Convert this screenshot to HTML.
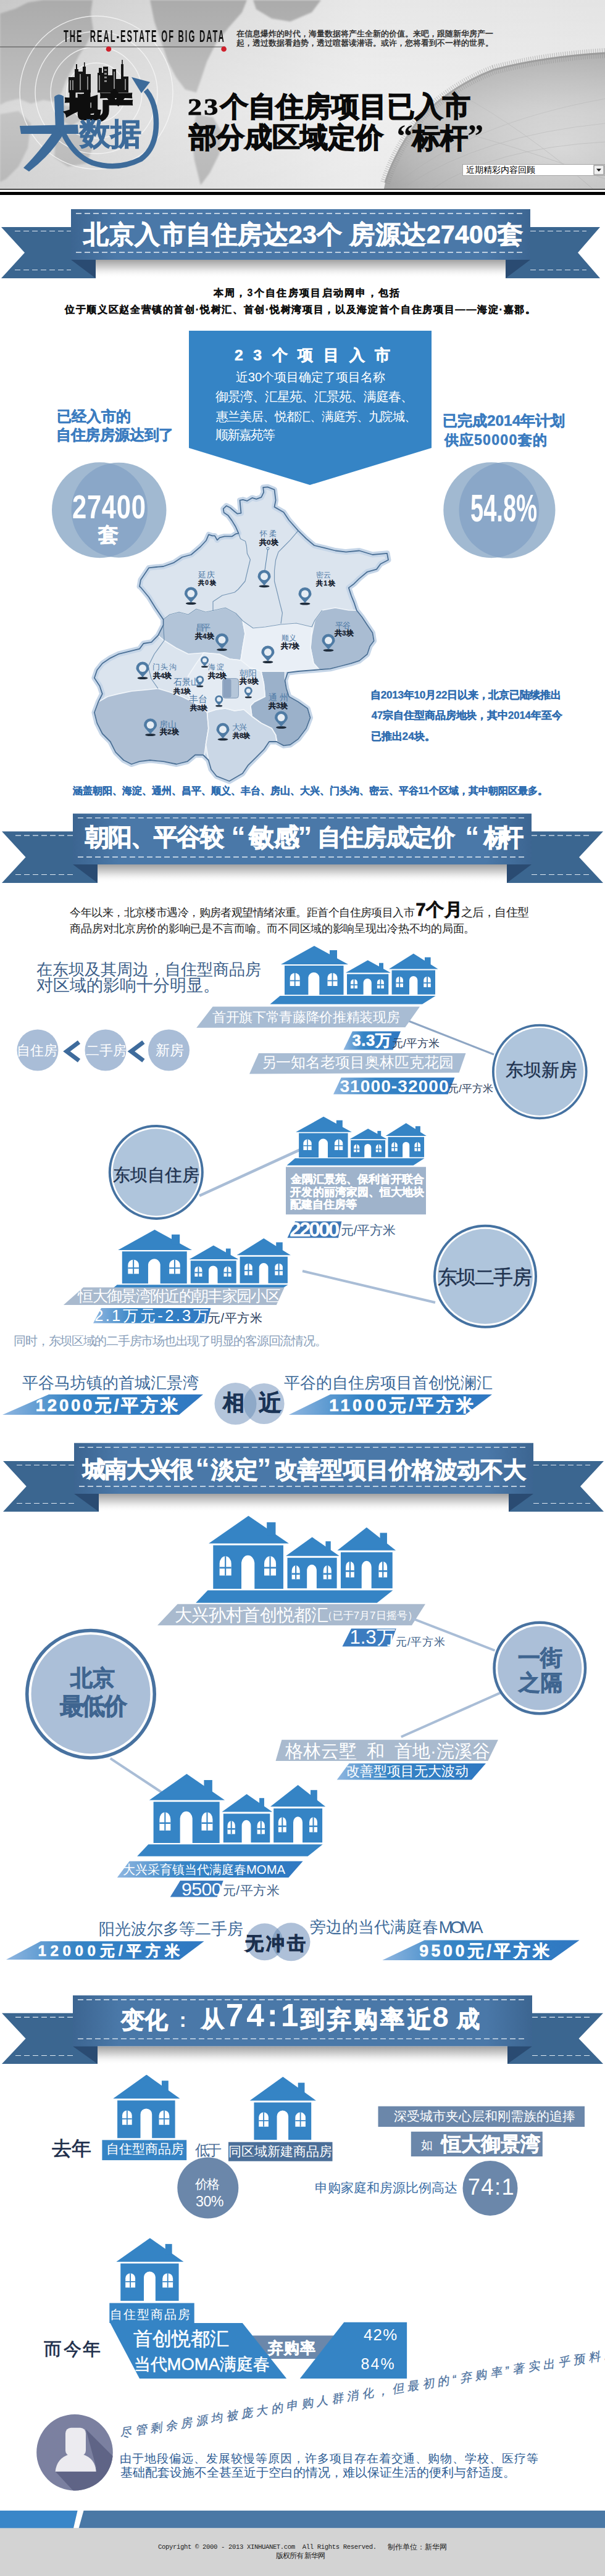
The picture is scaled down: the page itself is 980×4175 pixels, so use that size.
<!DOCTYPE html>
<html><head><meta charset="utf-8"><style>
html,body{margin:0;padding:0;background:#fff;}
#pg{position:relative;width:980px;height:4175px;overflow:hidden;background:#fff;font-family:"Liberation Sans",sans-serif;}
.t{position:absolute;white-space:pre;line-height:1;}
svg.pg{position:absolute;left:0;top:0;}
</style></head><body><div id="pg">
<svg class="pg" width="980" height="4175" viewBox="0 0 980 4175" xmlns="http://www.w3.org/2000/svg">
<defs>
<linearGradient id="ribg" x1="0" x2="1" y1="0" y2="0"><stop offset="0" stop-color="#3c6591"/><stop offset="0.1" stop-color="#4a78a8"/><stop offset="0.9" stop-color="#4a78a8"/><stop offset="1" stop-color="#3c6591"/></linearGradient>
<linearGradient id="shad" x1="0" x2="0" y1="0" y2="1"><stop offset="0" stop-color="#a2a2a2"/><stop offset="0.45" stop-color="#d8d8d8"/><stop offset="1" stop-color="#fff" stop-opacity="0"/></linearGradient>
<linearGradient id="wedge" x1="0" x2="1" y1="0" y2="0"><stop offset="0" stop-color="#8fb6e0"/><stop offset="0.35" stop-color="#3584c5"/><stop offset="1" stop-color="#2f78c2"/></linearGradient>
</defs>
<defs>
<linearGradient id="hbg" x1="0" x2="1" y1="0" y2="0"><stop offset="0" stop-color="#c9c9c9"/><stop offset="0.3" stop-color="#d9d9d9"/><stop offset="0.6" stop-color="#e8e8e8"/><stop offset="1" stop-color="#e4e4e4"/></linearGradient>
<linearGradient id="hbv" x1="0" x2="0" y1="0" y2="1"><stop offset="0" stop-color="#fff" stop-opacity="0"/><stop offset="0.6" stop-color="#fff" stop-opacity="0.3"/><stop offset="1" stop-color="#fff" stop-opacity="0.15"/></linearGradient>
<radialGradient id="globe" cx="0.8" cy="0.7" r="0.85"><stop offset="0" stop-color="#cdcdcd"/><stop offset="0.45" stop-color="#b9b9b9"/><stop offset="0.8" stop-color="#a6a6a6"/><stop offset="1" stop-color="#939393"/></radialGradient>
<filter id="blur2"><feGaussianBlur stdDeviation="1.5"/></filter>
</defs><rect x="0" y="0" width="980" height="306" fill="url(#hbg)"/><g fill="#ababab" filter="url(#blur2)"><path d="M0,22L25,14L45,4L70,0H150L147,22L151,48L141,70L128,90L118,110L107,130L100,150L88,165L70,162L50,168L30,160L10,165L0,170Z"/><path d="M243,0H400L392,20L370,45L350,70L335,100L325,130L318,150L300,145L285,125L272,100L262,70L250,35Z"/><path d="M318,185L345,190L360,215L355,250L340,280L325,300L315,260L310,220Z"/><path d="M90,220L135,215L150,240L140,265L110,270L88,255Z"/><path d="M0,185L30,180L50,200L45,240L30,270L10,290L0,295Z"/><path d="M410,0H520L505,20L470,35L440,30L415,15Z"/><path d="M95,168L120,175L130,195L115,205L100,195Z"/></g><circle cx="156" cy="150" r="48" fill="none" stroke="#f4f4f4" stroke-width="1.4" opacity="0.85"/><circle cx="156" cy="150" r="74" fill="none" stroke="#f4f4f4" stroke-width="1.4" opacity="0.85"/><circle cx="156" cy="150" r="99" fill="none" stroke="#f4f4f4" stroke-width="1.4" opacity="0.85"/><circle cx="156" cy="150" r="124" fill="none" stroke="#f4f4f4" stroke-width="1.4" opacity="0.85"/><path d="M622,306L624,296Q640,245 680,192Q730,140 800,113Q880,92 980,86V306Z" fill="url(#globe)"/><path d="M624,296Q640,245 680,192Q730,140 800,113Q880,92 980,86" fill="none" stroke="#7a7a7a" stroke-width="16" stroke-dasharray="1 2.5" opacity="0.55"/><path d="M624,296Q640,245 680,192Q730,140 800,113Q880,92 980,86" fill="none" stroke="#8a8a8a" stroke-width="3"/><g stroke="#9a9a9a" stroke-width="1" opacity="0.5" fill="none"><path d="M640,300Q760,200 980,160"/><path d="M660,300Q780,220 980,200"/><path d="M700,306Q800,240 980,230"/><path d="M690,200Q820,230 980,290"/><path d="M740,150Q850,210 960,306"/></g><rect x="0" y="0" width="980" height="306" fill="url(#hbv)"/><line x1="0" y1="76" x2="365" y2="76" stroke="#4a4a4a" stroke-width="1.2"/><circle cx="176" cy="79.5" r="4.3" fill="#cf1f2b"/><circle cx="362.6" cy="79.5" r="4.3" fill="#cf1f2b"/><g fill="#151515"><rect x="111" y="125" width="10" height="25"/><rect x="121" y="112" width="6" height="38"/><rect x="123" y="104" width="2" height="8"/><rect x="127" y="116" width="7" height="34"/><rect x="134" y="108" width="5" height="42"/><rect x="136" y="101" width="1.5" height="7"/><rect x="139" y="120" width="8" height="30"/><rect x="158" y="118" width="9" height="32"/><rect x="160" y="110" width="5" height="8"/><rect x="167" y="108" width="8" height="42"/><rect x="175" y="122" width="7" height="28"/><rect x="182" y="112" width="6" height="38"/><rect x="188" y="128" width="8" height="22"/><rect x="196" y="104" width="4" height="46"/><rect x="197.3" y="97" width="1.5" height="7"/><rect x="200" y="124" width="8" height="26"/></g><g fill="#8a8a8a"><rect x="113" y="130" width="2" height="16"/><rect x="117" y="130" width="2" height="16"/><rect x="129" y="120" width="2" height="26"/><rect x="141" y="124" width="2" height="22"/><rect x="160" y="122" width="2" height="24"/><rect x="169" y="112" width="4" height="3"/><rect x="169" y="118" width="4" height="3"/><rect x="169" y="124" width="4" height="3"/><rect x="169" y="130" width="4" height="3"/><rect x="184" y="116" width="2" height="28"/><rect x="202" y="128" width="2" height="18"/></g><g fill="#3d6b9a"><path d="M32,204L126,202L127,217L34,217Z"/><path d="M88,157Q95,150 103,156L104,210L90,212Z"/><path d="M90,208L106,212Q84,250 47,278L38,272Q66,244 90,208Z"/></g><path d="M100,210Q118,252 150,264Q190,277 228,258Q253,240 253,200Q253,166 236,146" fill="none" stroke="#3d6b9a" stroke-width="8.5"/><polygon points="213,125 243,133 229,151" fill="#3d6b9a"/><rect x="749.5" y="266.5" width="230" height="18" fill="#fff" stroke="#a5a5a5" stroke-width="1"/><rect x="962" y="268" width="16" height="15" fill="#f0f0f0" stroke="#707070" stroke-width="1"/><polygon points="966,273.5 974,273.5 970,278" fill="#111"/><rect x="0" y="306" width="980" height="1.5" fill="#111"/><rect x="0" y="311" width="980" height="5" fill="#000"/><polygon points="2,368 155,368 155,451 2,451 40,409.5" fill="#3b6690" /><polygon points="819,368 972,368 936,409.5 972,451 819,451" fill="#3b6690" /><polygon points="115,421 155,421 155,451" fill="#2a4b72" /><polygon points="859,421 819,421 819,451" fill="#2a4b72" /><line x1="24" y1="374.5" x2="115" y2="374.5" stroke="#dfe8f2" stroke-width="1.2" stroke-dasharray="9 5"/><line x1="859" y1="374.5" x2="950" y2="374.5" stroke="#dfe8f2" stroke-width="1.2" stroke-dasharray="9 5"/><line x1="24" y1="437.5" x2="115" y2="437.5" stroke="#dfe8f2" stroke-width="1.2" stroke-dasharray="9 5"/><line x1="859" y1="437.5" x2="950" y2="437.5" stroke="#dfe8f2" stroke-width="1.2" stroke-dasharray="9 5"/><rect x="155" y="421" width="664" height="30" fill="url(#shad)"/><rect x="115" y="339" width="744" height="82" fill="url(#ribg)"/><line x1="123" y1="346" x2="851" y2="346" stroke="#e4ecf4" stroke-width="1.3" stroke-dasharray="9 5"/><line x1="123" y1="409" x2="851" y2="409" stroke="#e4ecf4" stroke-width="1.3" stroke-dasharray="9 5"/><polygon points="306,536 699,536 699,726 502,786 306,726" fill="#3584c5" /><clipPath id="cpc1"><circle cx="161.5" cy="826.7" r="77.5"/></clipPath><circle cx="161.5" cy="826.7" r="77.5" fill="#a1b9d1"/><circle cx="192.5" cy="826.7" r="77" fill="#a1b9d1"/><circle cx="192.5" cy="826.7" r="77" fill="#8aa7c8" clip-path="url(#cpc1)"/><clipPath id="cpc2"><circle cx="795.8" cy="826.7" r="77.5"/></clipPath><circle cx="795.8" cy="826.7" r="77.5" fill="#a1b9d1"/><circle cx="821.5" cy="826.7" r="78" fill="#a1b9d1"/><circle cx="821.5" cy="826.7" r="78" fill="#8aa7c8" clip-path="url(#cpc2)"/><polygon points="433.7,789.3 444.5,793.6 446.6,810.8 444.5,821.6 459.5,830.2 468.0,843.0 483.0,860.2 496.0,873.0 509.0,884.0 526.0,888.2 543.3,892.5 560.5,894.6 582.0,892.5 603.5,899.0 627.0,896.8 629.0,907.5 616.4,914.0 610.0,922.6 595.0,926.8 582.0,937.6 573.4,946.2 564.8,952.6 569.0,965.5 573.4,976.3 577.7,989.2 586.3,1000.0 594.9,1012.9 603.5,1025.8 605.6,1038.7 599.2,1047.3 594.9,1060.2 582.0,1070.9 569.0,1075.2 552.0,1079.5 534.7,1083.8 509.0,1086.0 483.0,1088.0 466.0,1090.2 461.6,1103.0 463.8,1116.0 468.0,1129.0 483.0,1137.5 498.2,1148.3 502.5,1163.3 496.0,1180.5 483.0,1197.7 470.0,1207.0 459.5,1208.4 448.0,1202.0 436.0,1202.0 427.3,1214.9 414.4,1227.8 401.5,1240.7 392.9,1253.5 371.4,1266.0 350.6,1257.8 342.0,1247.0 337.7,1232.0 329.0,1223.5 316.2,1223.5 303.3,1234.2 286.0,1238.5 264.6,1234.2 243.0,1232.0 226.0,1234.2 213.0,1238.5 200.2,1232.0 187.3,1219.2 178.7,1202.0 165.8,1189.0 157.2,1171.9 152.9,1154.7 159.3,1137.5 165.8,1124.6 161.5,1111.7 152.9,1098.8 157.2,1086.0 165.8,1075.2 178.7,1066.6 191.6,1060.2 208.8,1055.9 226.0,1051.6 232.4,1043.0 245.3,1040.8 256.0,1030.0 264.6,1012.9 264.6,1004.0 251.7,985.0 241.0,967.7 228.0,952.0 226.0,950.5 228.0,939.7 241.0,920.4 253.0,919.0 264.6,918.0 281.8,911.8 295.0,903.0 309.7,899.0 324.8,886.0 334.0,876.0 338.0,866.4 343.9,868.4 347.9,868.4 351.8,875.3 355.8,871.3 363.7,869.4 375.6,869.4 381.6,865.4 386.5,864.4 381.6,853.5 375.6,843.6 369.7,835.6 362.7,830.7 361.7,824.7 366.7,819.8 372.7,822.7 379.6,828.7 384.6,832.7 390.5,831.7 389.5,821.7 388.5,810.8 393.5,809.8 400.4,811.8 408.4,806.9 415.3,808.8 423.3,805.9 427.2,797.9 426.2,790.0" fill="#dbe4ee" stroke="#c6d6e8" stroke-width="9" stroke-linejoin="round"/><polygon points="397.0,1027.0 393.0,1006.0 410.0,1018.0 430.0,1016.0 455.0,1012.0 480.0,1010.0 505.0,1016.0 503.0,1050.0 508.0,1075.0 518.0,1086.0 483.0,1088.0 461.6,1088.0 423.0,1088.0 405.0,1082.0 390.0,1070.0 393.0,1050.0" fill="#e9eff6"/><polygon points="330.0,1058.0 355.0,1060.0 372.0,1068.0 390.0,1070.0 405.0,1082.0 423.0,1088.0 427.3,1107.4 429.4,1129.0 412.2,1137.5 405.8,1143.9 408.0,1161.0 395.0,1150.0 380.0,1152.0 365.0,1148.0 350.0,1150.0 335.5,1154.7 324.8,1144.0 311.9,1137.5 300.0,1120.0 305.0,1095.0 318.0,1075.0" fill="#e4ebf3"/><polygon points="256.0,1030.0 264.6,1012.9 264.6,1004.0 275.0,996.0 290.0,992.0 305.0,996.0 318.0,987.0 333.0,992.0 347.0,989.0 365.0,985.0 382.0,994.0 393.0,1006.0 397.0,1027.0 393.0,1050.0 390.0,1070.0 372.0,1068.0 355.0,1060.0 330.0,1058.0 305.0,1060.0 285.0,1050.0 266.0,1038.0" fill="#b2c4d8"/><polygon points="521.8,989.0 543.0,985.0 565.0,989.0 577.7,989.2 586.3,1000.0 594.9,1012.9 603.5,1025.8 605.6,1038.7 599.2,1047.3 594.9,1060.2 582.0,1070.9 569.0,1075.2 552.0,1079.5 534.7,1083.8 518.0,1086.0 508.0,1075.0 503.0,1050.0 505.0,1030.0 510.0,1005.0" fill="#a9bcd2"/><polygon points="159.3,1137.5 174.4,1129.0 191.6,1124.6 213.0,1120.3 234.5,1118.2 256.0,1116.0 277.5,1122.5 294.7,1129.0 311.9,1137.5 324.8,1144.0 335.5,1154.7 337.7,1180.5 333.4,1206.3 331.2,1223.0 316.2,1223.5 303.3,1234.2 286.0,1238.5 264.6,1234.2 243.0,1232.0 226.0,1234.2 213.0,1238.5 200.2,1232.0 187.3,1219.2 178.7,1202.0 165.8,1189.0 157.2,1171.9 152.9,1154.7" fill="#aebfd4"/><polygon points="335.5,1154.7 350.0,1150.0 365.0,1148.0 380.0,1152.0 395.0,1150.0 408.0,1161.0 423.0,1171.9 440.2,1180.5 446.6,1191.2 448.0,1202.0 436.0,1202.0 427.3,1214.9 414.4,1227.8 401.5,1240.7 392.9,1253.5 371.4,1266.0 350.6,1257.8 342.0,1247.0 337.7,1232.0 333.4,1206.3 337.7,1180.5" fill="#cad7e6"/><polygon points="423.0,1088.0 461.6,1088.0 461.6,1103.0 463.8,1116.0 468.0,1129.0 483.0,1137.5 498.2,1148.3 502.5,1163.3 496.0,1180.5 483.0,1197.7 470.0,1207.0 459.5,1208.4 448.8,1202.0 446.6,1191.2 440.2,1180.5 423.0,1171.9 408.0,1161.0 405.8,1143.9 412.2,1137.5 429.4,1129.0 427.3,1107.4" fill="#9bb1ca"/><polygon points="256.0,1030.0 264.6,1012.9 264.6,1004.0 275.0,996.0 290.0,992.0 305.0,996.0 318.0,987.0 333.0,992.0 347.0,989.0 365.0,985.0 382.0,994.0 393.0,1006.0 397.0,1027.0 393.0,1050.0 390.0,1070.0 372.0,1068.0 355.0,1060.0 330.0,1058.0 305.0,1060.0 285.0,1050.0 266.0,1038.0" fill="none" stroke="#f2f6fa" stroke-width="1.6" stroke-linejoin="round"/><polygon points="521.8,989.0 543.0,985.0 565.0,989.0 577.7,989.2 586.3,1000.0 594.9,1012.9 603.5,1025.8 605.6,1038.7 599.2,1047.3 594.9,1060.2 582.0,1070.9 569.0,1075.2 552.0,1079.5 534.7,1083.8 518.0,1086.0 508.0,1075.0 503.0,1050.0 505.0,1030.0 510.0,1005.0" fill="none" stroke="#f2f6fa" stroke-width="1.6" stroke-linejoin="round"/><polygon points="159.3,1137.5 174.4,1129.0 191.6,1124.6 213.0,1120.3 234.5,1118.2 256.0,1116.0 277.5,1122.5 294.7,1129.0 311.9,1137.5 324.8,1144.0 335.5,1154.7 337.7,1180.5 333.4,1206.3 331.2,1223.0 316.2,1223.5 303.3,1234.2 286.0,1238.5 264.6,1234.2 243.0,1232.0 226.0,1234.2 213.0,1238.5 200.2,1232.0 187.3,1219.2 178.7,1202.0 165.8,1189.0 157.2,1171.9 152.9,1154.7" fill="none" stroke="#f2f6fa" stroke-width="1.6" stroke-linejoin="round"/><polygon points="335.5,1154.7 350.0,1150.0 365.0,1148.0 380.0,1152.0 395.0,1150.0 408.0,1161.0 423.0,1171.9 440.2,1180.5 446.6,1191.2 448.0,1202.0 436.0,1202.0 427.3,1214.9 414.4,1227.8 401.5,1240.7 392.9,1253.5 371.4,1266.0 350.6,1257.8 342.0,1247.0 337.7,1232.0 333.4,1206.3 337.7,1180.5" fill="none" stroke="#f2f6fa" stroke-width="1.6" stroke-linejoin="round"/><polygon points="423.0,1088.0 461.6,1088.0 461.6,1103.0 463.8,1116.0 468.0,1129.0 483.0,1137.5 498.2,1148.3 502.5,1163.3 496.0,1180.5 483.0,1197.7 470.0,1207.0 459.5,1208.4 448.8,1202.0 446.6,1191.2 440.2,1180.5 423.0,1171.9 408.0,1161.0 405.8,1143.9 412.2,1137.5 429.4,1129.0 427.3,1107.4" fill="none" stroke="#f2f6fa" stroke-width="1.6" stroke-linejoin="round"/><polygon points="397.0,1027.0 393.0,1006.0 410.0,1018.0 430.0,1016.0 455.0,1012.0 480.0,1010.0 505.0,1016.0 503.0,1050.0 508.0,1075.0 518.0,1086.0 483.0,1088.0 461.6,1088.0 423.0,1088.0 405.0,1082.0 390.0,1070.0 393.0,1050.0" fill="none" stroke="#f2f6fa" stroke-width="1.6" stroke-linejoin="round"/><polygon points="330.0,1058.0 355.0,1060.0 372.0,1068.0 390.0,1070.0 405.0,1082.0 423.0,1088.0 427.3,1107.4 429.4,1129.0 412.2,1137.5 405.8,1143.9 408.0,1161.0 395.0,1150.0 380.0,1152.0 365.0,1148.0 350.0,1150.0 335.5,1154.7 324.8,1144.0 311.9,1137.5 300.0,1120.0 305.0,1095.0 318.0,1075.0" fill="none" stroke="#f2f6fa" stroke-width="1.6" stroke-linejoin="round"/><polyline points="386.5,864.4 389.5,873.3 397.5,877.3 399.4,885.2 400.4,897.1 405.4,907.0 401.0,925.0 397.0,942.0 386.0,955.0 380.0,960.0 360.0,965.0 345.0,975.0 345.0,990.0" fill="none" stroke="#5e83a8" stroke-width="1.2" stroke-linejoin="round" opacity="0.8"/><polyline points="483.0,860.2 470.0,875.3 459.5,886.0 451.0,894.6 446.6,907.5 444.5,924.7 444.5,942.0 448.8,959.0 453.0,976.3 457.4,993.5 455.0,1010.7" fill="none" stroke="#5e83a8" stroke-width="1.2" stroke-linejoin="round" opacity="0.8"/><polyline points="264.6,1004.0 275.0,996.0 290.0,992.0 305.0,996.0 318.0,987.0 333.0,992.0 347.0,989.0 365.0,985.0 382.0,994.0 393.0,1006.0 410.0,1018.0 430.0,1016.0 455.0,1012.0 480.0,1010.0 505.0,1016.0 510.0,1005.0 521.8,989.0" fill="none" stroke="#5e83a8" stroke-width="1.2" stroke-linejoin="round" opacity="0.8"/><polyline points="264.6,1012.9 266.0,1038.0 250.0,1060.0 240.0,1080.0 245.0,1100.0 256.0,1116.0" fill="none" stroke="#5e83a8" stroke-width="1.2" stroke-linejoin="round" opacity="0.8"/><rect x="360.7" y="1099.7" width="25.7" height="31.7" rx="4" fill="#b5c6d9" stroke="#7f98b6" stroke-width="1"/><rect x="361.5" y="1100.5" width="13" height="30" rx="3" fill="#8ca2bf"/><polygon points="433.7,789.3 444.5,793.6 446.6,810.8 444.5,821.6 459.5,830.2 468.0,843.0 483.0,860.2 496.0,873.0 509.0,884.0 526.0,888.2 543.3,892.5 560.5,894.6 582.0,892.5 603.5,899.0 627.0,896.8 629.0,907.5 616.4,914.0 610.0,922.6 595.0,926.8 582.0,937.6 573.4,946.2 564.8,952.6 569.0,965.5 573.4,976.3 577.7,989.2 586.3,1000.0 594.9,1012.9 603.5,1025.8 605.6,1038.7 599.2,1047.3 594.9,1060.2 582.0,1070.9 569.0,1075.2 552.0,1079.5 534.7,1083.8 509.0,1086.0 483.0,1088.0 466.0,1090.2 461.6,1103.0 463.8,1116.0 468.0,1129.0 483.0,1137.5 498.2,1148.3 502.5,1163.3 496.0,1180.5 483.0,1197.7 470.0,1207.0 459.5,1208.4 448.0,1202.0 436.0,1202.0 427.3,1214.9 414.4,1227.8 401.5,1240.7 392.9,1253.5 371.4,1266.0 350.6,1257.8 342.0,1247.0 337.7,1232.0 329.0,1223.5 316.2,1223.5 303.3,1234.2 286.0,1238.5 264.6,1234.2 243.0,1232.0 226.0,1234.2 213.0,1238.5 200.2,1232.0 187.3,1219.2 178.7,1202.0 165.8,1189.0 157.2,1171.9 152.9,1154.7 159.3,1137.5 165.8,1124.6 161.5,1111.7 152.9,1098.8 157.2,1086.0 165.8,1075.2 178.7,1066.6 191.6,1060.2 208.8,1055.9 226.0,1051.6 232.4,1043.0 245.3,1040.8 256.0,1030.0 264.6,1012.9 264.6,1004.0 251.7,985.0 241.0,967.7 228.0,952.0 226.0,950.5 228.0,939.7 241.0,920.4 253.0,919.0 264.6,918.0 281.8,911.8 295.0,903.0 309.7,899.0 324.8,886.0 334.0,876.0 338.0,866.4 343.9,868.4 347.9,868.4 351.8,875.3 355.8,871.3 363.7,869.4 375.6,869.4 381.6,865.4 386.5,864.4 381.6,853.5 375.6,843.6 369.7,835.6 362.7,830.7 361.7,824.7 366.7,819.8 372.7,822.7 379.6,828.7 384.6,832.7 390.5,831.7 389.5,821.7 388.5,810.8 393.5,809.8 400.4,811.8 408.4,806.9 415.3,808.8 423.3,805.9 427.2,797.9 426.2,790.0" fill="none" stroke="#4a6f95" stroke-width="1.8" stroke-linejoin="round"/><ellipse cx="428" cy="950.2" rx="8.5" ry="2" fill="#1e2b3a"/><path d="M428,949.2 C425,944.2 417.5,939.2 417.5,934.2 A10.5,10.5 0 1 1 438.5,934.2 C438.5,939.2 431,944.2 428,949.2Z" fill="#4f7ba4"/><circle cx="428" cy="934.2" r="6" fill="#e6edf4"/><ellipse cx="309.4" cy="978" rx="8.5" ry="2" fill="#1e2b3a"/><path d="M309.4,977 C306.4,972 298.9,967 298.9,962 A10.5,10.5 0 1 1 319.9,962 C319.9,967 312.4,972 309.4,977Z" fill="#4f7ba4"/><circle cx="309.4" cy="962" r="6" fill="#e6edf4"/><ellipse cx="494" cy="978.5" rx="8.5" ry="2" fill="#1e2b3a"/><path d="M494,977.5 C491,972.5 483.5,967.5 483.5,962.5 A10.5,10.5 0 1 1 504.5,962.5 C504.5,967.5 497,972.5 494,977.5Z" fill="#4f7ba4"/><circle cx="494" cy="962.5" r="6" fill="#e6edf4"/><ellipse cx="359.5" cy="1053" rx="8.5" ry="2" fill="#1e2b3a"/><path d="M359.5,1052 C356.5,1047 349.0,1042 349.0,1037 A10.5,10.5 0 1 1 370.0,1037 C370.0,1042 362.5,1047 359.5,1052Z" fill="#4f7ba4"/><circle cx="359.5" cy="1037" r="6" fill="#e6edf4"/><ellipse cx="433.9" cy="1073" rx="8.5" ry="2" fill="#1e2b3a"/><path d="M433.9,1072 C430.9,1067 423.4,1062 423.4,1057 A10.5,10.5 0 1 1 444.4,1057 C444.4,1062 436.9,1067 433.9,1072Z" fill="#4f7ba4"/><circle cx="433.9" cy="1057" r="6" fill="#e6edf4"/><ellipse cx="532" cy="1054" rx="8.5" ry="2" fill="#1e2b3a"/><path d="M532,1053 C529,1048 521.5,1043 521.5,1038 A10.5,10.5 0 1 1 542.5,1038 C542.5,1043 535,1048 532,1053Z" fill="#4f7ba4"/><circle cx="532" cy="1038" r="6" fill="#e6edf4"/><ellipse cx="231" cy="1099" rx="8.5" ry="2" fill="#1e2b3a"/><path d="M231,1098 C228,1093 220.5,1088 220.5,1083 A10.5,10.5 0 1 1 241.5,1083 C241.5,1088 234,1093 231,1098Z" fill="#4f7ba4"/><circle cx="231" cy="1083" r="6" fill="#e6edf4"/><ellipse cx="243.6" cy="1191" rx="8.5" ry="2" fill="#1e2b3a"/><path d="M243.6,1190 C240.6,1185 233.1,1180 233.1,1175 A10.5,10.5 0 1 1 254.1,1175 C254.1,1180 246.6,1185 243.6,1190Z" fill="#4f7ba4"/><circle cx="243.6" cy="1175" r="6" fill="#e6edf4"/><ellipse cx="361" cy="1198.3" rx="8.5" ry="2" fill="#1e2b3a"/><path d="M361,1197.3 C358,1192.3 350.5,1187.3 350.5,1182.3 A10.5,10.5 0 1 1 371.5,1182.3 C371.5,1187.3 364,1192.3 361,1197.3Z" fill="#4f7ba4"/><circle cx="361" cy="1182.3" r="6" fill="#e6edf4"/><ellipse cx="455.5" cy="1179" rx="8.5" ry="2" fill="#1e2b3a"/><path d="M455.5,1178 C452.5,1173 445.0,1168 445.0,1163 A10.5,10.5 0 1 1 466.0,1163 C466.0,1168 458.5,1173 455.5,1178Z" fill="#4f7ba4"/><circle cx="455.5" cy="1163" r="6" fill="#e6edf4"/><ellipse cx="331.5" cy="1080.5" rx="5.5" ry="1.5" fill="#1e2b3a"/><path d="M331.5,1080 C329.5,1077 325.0,1074 325.0,1070 A6.5,6.5 0 1 1 338.0,1070 C338.0,1074 333.5,1077 331.5,1080Z" fill="#4f7ba4"/><circle cx="331.5" cy="1070" r="3.6" fill="#e6edf4"/><ellipse cx="323.8" cy="1112.2" rx="5.5" ry="1.5" fill="#1e2b3a"/><path d="M323.8,1111.7 C321.8,1108.7 317.3,1105.7 317.3,1101.7 A6.5,6.5 0 1 1 330.3,1101.7 C330.3,1105.7 325.8,1108.7 323.8,1111.7Z" fill="#4f7ba4"/><circle cx="323.8" cy="1101.7" r="3.6" fill="#e6edf4"/><ellipse cx="402.3" cy="1130.0" rx="5.5" ry="1.5" fill="#1e2b3a"/><path d="M402.3,1129.5 C400.3,1126.5 395.8,1123.5 395.8,1119.5 A6.5,6.5 0 1 1 408.8,1119.5 C408.8,1123.5 404.3,1126.5 402.3,1129.5Z" fill="#4f7ba4"/><circle cx="402.3" cy="1119.5" r="3.6" fill="#e6edf4"/><ellipse cx="354.7" cy="1143.9" rx="5.5" ry="1.5" fill="#1e2b3a"/><path d="M354.7,1143.4 C352.7,1140.4 348.2,1137.4 348.2,1133.4 A6.5,6.5 0 1 1 361.2,1133.4 C361.2,1137.4 356.7,1140.4 354.7,1143.4Z" fill="#4f7ba4"/><circle cx="354.7" cy="1133.4" r="3.6" fill="#e6edf4"/><line x1="434" y1="889" x2="429" y2="924" stroke="#4f7ba4" stroke-width="1"/><circle cx="434" cy="889" r="2" fill="#e6edf4" stroke="#4f7ba4"/><polygon points="3,1347.6 158,1347.6 158,1431 3,1431 41.6,1389.3" fill="#3b6690" /><polygon points="821,1347.6 977,1347.6 938,1389.3 977,1431 821,1431" fill="#3b6690" /><polygon points="118,1401 158,1401 158,1431" fill="#2a4b72" /><polygon points="861,1401 821,1401 821,1431" fill="#2a4b72" /><line x1="25" y1="1354.1" x2="118" y2="1354.1" stroke="#dfe8f2" stroke-width="1.2" stroke-dasharray="9 5"/><line x1="861" y1="1354.1" x2="955" y2="1354.1" stroke="#dfe8f2" stroke-width="1.2" stroke-dasharray="9 5"/><line x1="25" y1="1417.5" x2="118" y2="1417.5" stroke="#dfe8f2" stroke-width="1.2" stroke-dasharray="9 5"/><line x1="861" y1="1417.5" x2="955" y2="1417.5" stroke="#dfe8f2" stroke-width="1.2" stroke-dasharray="9 5"/><rect x="158" y="1401" width="663" height="30" fill="url(#shad)"/><rect x="118" y="1318.6" width="743" height="82.40000000000009" fill="url(#ribg)"/><line x1="126" y1="1325.6" x2="853" y2="1325.6" stroke="#e4ecf4" stroke-width="1.3" stroke-dasharray="9 5"/><line x1="126" y1="1389" x2="853" y2="1389" stroke="#e4ecf4" stroke-width="1.3" stroke-dasharray="9 5"/><circle cx="61" cy="1702" r="33.5" fill="#a9bdd7"/><circle cx="171" cy="1702" r="33.5" fill="#a9bdd7"/><circle cx="273.5" cy="1702" r="33.5" fill="#a9bdd7"/><polyline points="128,1689 108,1704 128,1719" fill="none" stroke="#3e6b9c" stroke-width="7" stroke-linejoin="miter"/><polyline points="232.4,1689 212.4,1704 232.4,1719" fill="none" stroke="#3e6b9c" stroke-width="7" stroke-linejoin="miter"/><svg x="437" y="1532" width="273" height="96" viewBox="0 0 273 96" preserveAspectRatio="none"><g fill="#3584c5"><g>
<polygon points="18,31 72,1 127,31"/><rect x="97" y="8" width="12" height="14"/>
<path d="M24,33H119.5V80.3H80.3V52A9,9 0 0 0 62.4,52V80.3H24Z"/>
<polygon points="123,44.6 158.7,24.2 195.7,44.6"/><rect x="177" y="28.7" width="7" height="10"/>
<path d="M125,46.7H192.3V79.8H164.8V60.6A6.6,6.6 0 0 0 151.6,60.6V79.8H125Z"/>
<polygon points="193,38.5 232.8,13.6 272.5,38.5"/><rect x="251" y="19.5" width="9.6" height="12"/>
<path d="M197.6,40.6H268V79.8H239.4V56.7A6.7,6.7 0 0 0 226,56.7V79.8H197.6Z"/>
<polygon points="16.6,82 268.5,82 247,95.6 0.4,95.6"/>
</g></g><path d="M32.7,66V53.0A8.0,8.0 0 0 1 48.7,53.0V66Z" fill="#fff"/><rect x="39.800000000000004" y="45" width="1.8" height="21" fill="#3584c5"/><rect x="32.7" y="56.55" width="16" height="1.8" fill="#3584c5"/><path d="M93.5,66V53.0A8.0,8.0 0 0 1 109.5,53.0V66Z" fill="#fff"/><rect x="100.6" y="45" width="1.8" height="21" fill="#3584c5"/><rect x="93.5" y="56.55" width="16" height="1.8" fill="#3584c5"/><path d="M131.0,70V60.5A5.5,5.5 0 0 1 142.0,60.5V70Z" fill="#fff"/><rect x="135.6" y="55" width="1.8" height="15" fill="#3584c5"/><rect x="131.0" y="63.25" width="11" height="1.8" fill="#3584c5"/><path d="M173.9,70V60.5A5.5,5.5 0 0 1 184.9,60.5V70Z" fill="#fff"/><rect x="178.5" y="55" width="1.8" height="15" fill="#3584c5"/><rect x="173.9" y="63.25" width="11" height="1.8" fill="#3584c5"/><path d="M204.45,68.0V56.45A5.75,5.75 0 0 1 215.95,56.45V68.0Z" fill="#fff"/><rect x="209.29999999999998" y="50.7" width="1.8" height="17.3" fill="#3584c5"/><rect x="204.45" y="60.215" width="11.5" height="1.8" fill="#3584c5"/><path d="M249.25,68.0V56.45A5.75,5.75 0 0 1 260.75,56.45V68.0Z" fill="#fff"/><rect x="254.1" y="50.7" width="1.8" height="17.3" fill="#3584c5"/><rect x="249.25" y="60.215" width="11.5" height="1.8" fill="#3584c5"/></svg><line x1="660" y1="1654" x2="800" y2="1709" stroke="#8ea6c4" stroke-width="3"/><polygon points="344.6,1631.4 680,1631.4 656.4,1665 318.2,1665.8" fill="#a8bcd3" /><polygon points="570.9,1671.5 649,1671.5 636.4,1701.4 556.4,1701.4" fill="url(#wedge)" /><polygon points="419,1707 754.5,1707 743.6,1738.5 404,1740.5" fill="#a8bcd3" /><polygon points="552.7,1746.5 736.4,1746.5 725.5,1773.5 540,1773.5" fill="url(#wedge)" /><circle cx="874.3" cy="1737" r="75.39999999999999" fill="#fff" stroke="#4572a1" stroke-width="3.8"/><circle cx="874.3" cy="1737" r="70.9" fill="#afc5dc"/><line x1="323" y1="1938" x2="486" y2="1863.4" stroke="#a9bdd6" stroke-width="4.5"/><circle cx="252.8" cy="1900" r="75.0" fill="#fff" stroke="#4572a1" stroke-width="4"/><circle cx="252.8" cy="1900" r="70.4" fill="#afc5dc"/><svg x="464.2" y="1809" width="227" height="80" viewBox="0 0 273 96" preserveAspectRatio="none"><g fill="#3584c5"><g>
<polygon points="18,31 72,1 127,31"/><rect x="97" y="8" width="12" height="14"/>
<path d="M24,33H119.5V80.3H80.3V52A9,9 0 0 0 62.4,52V80.3H24Z"/>
<polygon points="123,44.6 158.7,24.2 195.7,44.6"/><rect x="177" y="28.7" width="7" height="10"/>
<path d="M125,46.7H192.3V79.8H164.8V60.6A6.6,6.6 0 0 0 151.6,60.6V79.8H125Z"/>
<polygon points="193,38.5 232.8,13.6 272.5,38.5"/><rect x="251" y="19.5" width="9.6" height="12"/>
<path d="M197.6,40.6H268V79.8H239.4V56.7A6.7,6.7 0 0 0 226,56.7V79.8H197.6Z"/>
<polygon points="16.6,82 268.5,82 247,95.6 0.4,95.6"/>
</g></g><path d="M32.7,66V53.0A8.0,8.0 0 0 1 48.7,53.0V66Z" fill="#fff"/><rect x="39.800000000000004" y="45" width="1.8" height="21" fill="#3584c5"/><rect x="32.7" y="56.55" width="16" height="1.8" fill="#3584c5"/><path d="M93.5,66V53.0A8.0,8.0 0 0 1 109.5,53.0V66Z" fill="#fff"/><rect x="100.6" y="45" width="1.8" height="21" fill="#3584c5"/><rect x="93.5" y="56.55" width="16" height="1.8" fill="#3584c5"/><path d="M131.0,70V60.5A5.5,5.5 0 0 1 142.0,60.5V70Z" fill="#fff"/><rect x="135.6" y="55" width="1.8" height="15" fill="#3584c5"/><rect x="131.0" y="63.25" width="11" height="1.8" fill="#3584c5"/><path d="M173.9,70V60.5A5.5,5.5 0 0 1 184.9,60.5V70Z" fill="#fff"/><rect x="178.5" y="55" width="1.8" height="15" fill="#3584c5"/><rect x="173.9" y="63.25" width="11" height="1.8" fill="#3584c5"/><path d="M204.45,68.0V56.45A5.75,5.75 0 0 1 215.95,56.45V68.0Z" fill="#fff"/><rect x="209.29999999999998" y="50.7" width="1.8" height="17.3" fill="#3584c5"/><rect x="204.45" y="60.215" width="11.5" height="1.8" fill="#3584c5"/><path d="M249.25,68.0V56.45A5.75,5.75 0 0 1 260.75,56.45V68.0Z" fill="#fff"/><rect x="254.1" y="50.7" width="1.8" height="17.3" fill="#3584c5"/><rect x="249.25" y="60.215" width="11.5" height="1.8" fill="#3584c5"/></svg><rect x="463" y="1891.3" width="227" height="77" fill="#9fb3cb"/><polygon points="478,1979.4 553.4,1979.4 548,2006.3 465.5,2006.3" fill="#3d77b6" /><line x1="490" y1="2060" x2="705" y2="2111" stroke="#a9bdd6" stroke-width="4"/><svg x="171.4" y="1992" width="300" height="105.6" viewBox="0 0 273 96" preserveAspectRatio="none"><g fill="#3584c5"><g>
<polygon points="18,31 72,1 127,31"/><rect x="97" y="8" width="12" height="14"/>
<path d="M24,33H119.5V80.3H80.3V52A9,9 0 0 0 62.4,52V80.3H24Z"/>
<polygon points="123,44.6 158.7,24.2 195.7,44.6"/><rect x="177" y="28.7" width="7" height="10"/>
<path d="M125,46.7H192.3V79.8H164.8V60.6A6.6,6.6 0 0 0 151.6,60.6V79.8H125Z"/>
<polygon points="193,38.5 232.8,13.6 272.5,38.5"/><rect x="251" y="19.5" width="9.6" height="12"/>
<path d="M197.6,40.6H268V79.8H239.4V56.7A6.7,6.7 0 0 0 226,56.7V79.8H197.6Z"/>
<polygon points="16.6,82 268.5,82 247,95.6 0.4,95.6"/>
</g></g><path d="M32.7,66V53.0A8.0,8.0 0 0 1 48.7,53.0V66Z" fill="#fff"/><rect x="39.800000000000004" y="45" width="1.8" height="21" fill="#3584c5"/><rect x="32.7" y="56.55" width="16" height="1.8" fill="#3584c5"/><path d="M93.5,66V53.0A8.0,8.0 0 0 1 109.5,53.0V66Z" fill="#fff"/><rect x="100.6" y="45" width="1.8" height="21" fill="#3584c5"/><rect x="93.5" y="56.55" width="16" height="1.8" fill="#3584c5"/><path d="M131.0,70V60.5A5.5,5.5 0 0 1 142.0,60.5V70Z" fill="#fff"/><rect x="135.6" y="55" width="1.8" height="15" fill="#3584c5"/><rect x="131.0" y="63.25" width="11" height="1.8" fill="#3584c5"/><path d="M173.9,70V60.5A5.5,5.5 0 0 1 184.9,60.5V70Z" fill="#fff"/><rect x="178.5" y="55" width="1.8" height="15" fill="#3584c5"/><rect x="173.9" y="63.25" width="11" height="1.8" fill="#3584c5"/><path d="M204.45,68.0V56.45A5.75,5.75 0 0 1 215.95,56.45V68.0Z" fill="#fff"/><rect x="209.29999999999998" y="50.7" width="1.8" height="17.3" fill="#3584c5"/><rect x="204.45" y="60.215" width="11.5" height="1.8" fill="#3584c5"/><path d="M249.25,68.0V56.45A5.75,5.75 0 0 1 260.75,56.45V68.0Z" fill="#fff"/><rect x="254.1" y="50.7" width="1.8" height="17.3" fill="#3584c5"/><rect x="249.25" y="60.215" width="11.5" height="1.8" fill="#3584c5"/></svg><polygon points="135,2086.6 460.7,2086.6 447.8,2115 102.9,2115" fill="#a9bace" /><polygon points="164,2120 341.4,2120 335,2144.6 151,2144.6" fill="url(#wedge)" /><circle cx="786" cy="2068.8" r="82.0" fill="#fff" stroke="#4572a1" stroke-width="4"/><circle cx="786" cy="2068.8" r="77" fill="#afc5dc"/><polygon points="79,2260 329,2260 290,2293 4,2293" fill="url(#wedge)" /><clipPath id="cpc3"><circle cx="381.5" cy="2275" r="34"/></clipPath><circle cx="381.5" cy="2275" r="34" fill="#b4c5db"/><circle cx="427.6" cy="2275" r="33" fill="#b4c5db"/><circle cx="427.6" cy="2275" r="33" fill="#8ea9c8" clip-path="url(#cpc3)"/><polygon points="535,2260 797,2260 753.5,2293 467.8,2293" fill="url(#wedge)" /><polygon points="5,2368 160,2368 160,2450 5,2450 42.8,2409.0" fill="#3b6690" /><polygon points="824,2368 978,2368 940,2409.0 978,2450 824,2450" fill="#3b6690" /><polygon points="120,2421 160,2421 160,2450" fill="#2a4b72" /><polygon points="864,2421 824,2421 824,2450" fill="#2a4b72" /><line x1="27" y1="2374.5" x2="120" y2="2374.5" stroke="#dfe8f2" stroke-width="1.2" stroke-dasharray="9 5"/><line x1="864" y1="2374.5" x2="956" y2="2374.5" stroke="#dfe8f2" stroke-width="1.2" stroke-dasharray="9 5"/><line x1="27" y1="2436.5" x2="120" y2="2436.5" stroke="#dfe8f2" stroke-width="1.2" stroke-dasharray="9 5"/><line x1="864" y1="2436.5" x2="956" y2="2436.5" stroke="#dfe8f2" stroke-width="1.2" stroke-dasharray="9 5"/><rect x="160" y="2421" width="664" height="30" fill="url(#shad)"/><rect x="120" y="2338.7" width="744" height="82.30000000000018" fill="url(#ribg)"/><line x1="128" y1="2345.7" x2="856" y2="2345.7" stroke="#e4ecf4" stroke-width="1.3" stroke-dasharray="9 5"/><line x1="128" y1="2409" x2="856" y2="2409" stroke="#e4ecf4" stroke-width="1.3" stroke-dasharray="9 5"/><svg x="316.7" y="2455.3" width="325" height="143" viewBox="0 0 273 96" preserveAspectRatio="none"><g fill="#3584c5"><g>
<polygon points="18,31 72,1 127,31"/><rect x="97" y="8" width="12" height="14"/>
<path d="M24,33H119.5V80.3H80.3V52A9,9 0 0 0 62.4,52V80.3H24Z"/>
<polygon points="123,44.6 158.7,24.2 195.7,44.6"/><rect x="177" y="28.7" width="7" height="10"/>
<path d="M125,46.7H192.3V79.8H164.8V60.6A6.6,6.6 0 0 0 151.6,60.6V79.8H125Z"/>
<polygon points="193,38.5 232.8,13.6 272.5,38.5"/><rect x="251" y="19.5" width="9.6" height="12"/>
<path d="M197.6,40.6H268V79.8H239.4V56.7A6.7,6.7 0 0 0 226,56.7V79.8H197.6Z"/>
<polygon points="16.6,82 268.5,82 247,95.6 0.4,95.6"/>
</g></g><path d="M32.7,66V53.0A8.0,8.0 0 0 1 48.7,53.0V66Z" fill="#fff"/><rect x="39.800000000000004" y="45" width="1.8" height="21" fill="#3584c5"/><rect x="32.7" y="56.55" width="16" height="1.8" fill="#3584c5"/><path d="M93.5,66V53.0A8.0,8.0 0 0 1 109.5,53.0V66Z" fill="#fff"/><rect x="100.6" y="45" width="1.8" height="21" fill="#3584c5"/><rect x="93.5" y="56.55" width="16" height="1.8" fill="#3584c5"/><path d="M131.0,70V60.5A5.5,5.5 0 0 1 142.0,60.5V70Z" fill="#fff"/><rect x="135.6" y="55" width="1.8" height="15" fill="#3584c5"/><rect x="131.0" y="63.25" width="11" height="1.8" fill="#3584c5"/><path d="M173.9,70V60.5A5.5,5.5 0 0 1 184.9,60.5V70Z" fill="#fff"/><rect x="178.5" y="55" width="1.8" height="15" fill="#3584c5"/><rect x="173.9" y="63.25" width="11" height="1.8" fill="#3584c5"/><path d="M204.45,68.0V56.45A5.75,5.75 0 0 1 215.95,56.45V68.0Z" fill="#fff"/><rect x="209.29999999999998" y="50.7" width="1.8" height="17.3" fill="#3584c5"/><rect x="204.45" y="60.215" width="11.5" height="1.8" fill="#3584c5"/><path d="M249.25,68.0V56.45A5.75,5.75 0 0 1 260.75,56.45V68.0Z" fill="#fff"/><rect x="254.1" y="50.7" width="1.8" height="17.3" fill="#3584c5"/><rect x="249.25" y="60.215" width="11.5" height="1.8" fill="#3584c5"/></svg><polygon points="287.6,2599.7 689,2599.7 667,2634.3 255,2634.3" fill="#a9bace" /><polygon points="569,2639.5 641.8,2639.5 631,2668.5 554.5,2668.5" fill="#3b7cc0" /><line x1="667.6" y1="2623" x2="801.5" y2="2675" stroke="#a9bdd6" stroke-width="4"/><line x1="810.4" y1="2743.6" x2="649.8" y2="2815" stroke="#a9bdd6" stroke-width="4"/><line x1="178.7" y1="2849.8" x2="262" y2="2905" stroke="#a9bdd6" stroke-width="4"/><circle cx="147" cy="2745.7" r="103.25" fill="#fff" stroke="#4872a0" stroke-width="5.5"/><circle cx="147" cy="2745.7" r="96.5" fill="#abbfd8"/><circle cx="874.3" cy="2703.5" r="73.75" fill="#fff" stroke="#4872a0" stroke-width="4.5"/><circle cx="874.3" cy="2703.5" r="68.0" fill="#abbfd8"/><polygon points="456.4,2819.8 806.9,2819.8 790.3,2854 446.5,2854" fill="#a9bace" /><polygon points="565.5,2858 787,2858 764,2884.6 545.7,2884.6" fill="url(#wedge)" /><svg x="221.7" y="2873.7" width="306" height="135.4" viewBox="0 0 273 96" preserveAspectRatio="none"><g fill="#3584c5"><g>
<polygon points="18,31 72,1 127,31"/><rect x="97" y="8" width="12" height="14"/>
<path d="M24,33H119.5V80.3H80.3V52A9,9 0 0 0 62.4,52V80.3H24Z"/>
<polygon points="123,44.6 158.7,24.2 195.7,44.6"/><rect x="177" y="28.7" width="7" height="10"/>
<path d="M125,46.7H192.3V79.8H164.8V60.6A6.6,6.6 0 0 0 151.6,60.6V79.8H125Z"/>
<polygon points="193,38.5 232.8,13.6 272.5,38.5"/><rect x="251" y="19.5" width="9.6" height="12"/>
<path d="M197.6,40.6H268V79.8H239.4V56.7A6.7,6.7 0 0 0 226,56.7V79.8H197.6Z"/>
<polygon points="16.6,82 268.5,82 247,95.6 0.4,95.6"/>
</g></g><path d="M32.7,66V53.0A8.0,8.0 0 0 1 48.7,53.0V66Z" fill="#fff"/><rect x="39.800000000000004" y="45" width="1.8" height="21" fill="#3584c5"/><rect x="32.7" y="56.55" width="16" height="1.8" fill="#3584c5"/><path d="M93.5,66V53.0A8.0,8.0 0 0 1 109.5,53.0V66Z" fill="#fff"/><rect x="100.6" y="45" width="1.8" height="21" fill="#3584c5"/><rect x="93.5" y="56.55" width="16" height="1.8" fill="#3584c5"/><path d="M131.0,70V60.5A5.5,5.5 0 0 1 142.0,60.5V70Z" fill="#fff"/><rect x="135.6" y="55" width="1.8" height="15" fill="#3584c5"/><rect x="131.0" y="63.25" width="11" height="1.8" fill="#3584c5"/><path d="M173.9,70V60.5A5.5,5.5 0 0 1 184.9,60.5V70Z" fill="#fff"/><rect x="178.5" y="55" width="1.8" height="15" fill="#3584c5"/><rect x="173.9" y="63.25" width="11" height="1.8" fill="#3584c5"/><path d="M204.45,68.0V56.45A5.75,5.75 0 0 1 215.95,56.45V68.0Z" fill="#fff"/><rect x="209.29999999999998" y="50.7" width="1.8" height="17.3" fill="#3584c5"/><rect x="204.45" y="60.215" width="11.5" height="1.8" fill="#3584c5"/><path d="M249.25,68.0V56.45A5.75,5.75 0 0 1 260.75,56.45V68.0Z" fill="#fff"/><rect x="254.1" y="50.7" width="1.8" height="17.3" fill="#3584c5"/><rect x="249.25" y="60.215" width="11.5" height="1.8" fill="#3584c5"/></svg><polygon points="209.6,3016.4 490.6,3016.4 467.4,3043 189.8,3043" fill="url(#wedge)" /><polygon points="292,3048 361.7,3048 351.7,3074.6 275.7,3074.6" fill="#3b7cc0" /><polygon points="66,3146.3 330.6,3146.3 291,3176 10,3176" fill="url(#wedge)" /><clipPath id="cpc4"><circle cx="428.6" cy="3147.3" r="30"/></clipPath><circle cx="428.6" cy="3147.3" r="30" fill="#aec0d8"/><circle cx="471.5" cy="3147.3" r="31" fill="#aec0d8"/><circle cx="471.5" cy="3147.3" r="31" fill="#8aa5c5" clip-path="url(#cpc4)"/><polygon points="687.7,3144.4 938.6,3144.4 893,3177 619.3,3177" fill="url(#wedge)" /><polygon points="3,3262.8 158,3262.8 158,3345 3,3345 41.6,3303.9" fill="#3b6690" /><polygon points="822,3262.8 977,3262.8 937.5,3303.9 977,3345 822,3345" fill="#3b6690" /><polygon points="118,3316.4 158,3316.4 158,3345" fill="#2a4b72" /><polygon points="862,3316.4 822,3316.4 822,3345" fill="#2a4b72" /><line x1="25" y1="3269.3" x2="118" y2="3269.3" stroke="#dfe8f2" stroke-width="1.2" stroke-dasharray="9 5"/><line x1="862" y1="3269.3" x2="955" y2="3269.3" stroke="#dfe8f2" stroke-width="1.2" stroke-dasharray="9 5"/><line x1="25" y1="3331.5" x2="118" y2="3331.5" stroke="#dfe8f2" stroke-width="1.2" stroke-dasharray="9 5"/><line x1="862" y1="3331.5" x2="955" y2="3331.5" stroke="#dfe8f2" stroke-width="1.2" stroke-dasharray="9 5"/><rect x="158" y="3316.4" width="664" height="30" fill="url(#shad)"/><rect x="118" y="3234" width="744" height="82.40000000000009" fill="url(#ribg)"/><line x1="126" y1="3241" x2="854" y2="3241" stroke="#e4ecf4" stroke-width="1.3" stroke-dasharray="9 5"/><line x1="126" y1="3304.4" x2="854" y2="3304.4" stroke="#e4ecf4" stroke-width="1.3" stroke-dasharray="9 5"/><svg x="183.2" y="3362.5" width="108.3" height="103" viewBox="0 0 110 106" preserveAspectRatio="none"><g fill="#3584c5"><polygon points="0,40 55,0 110,40" /><rect x="80" y="10" width="11" height="17"/>
<path d="M7,43H102V106H64V66A9.5,9.5 0 0 0 45,66V106H7Z"/></g><path d="M15.0,83.6V67.6A8.0,8.0 0 0 1 31.0,67.6V83.6Z" fill="#fff"/><rect x="22.1" y="59.6" width="1.8" height="24" fill="#3584c5"/><rect x="15.0" y="72.8" width="16" height="1.8" fill="#3584c5"/><path d="M75.5,83.6V68.1A8.5,8.5 0 0 1 92.5,68.1V83.6Z" fill="#fff"/><rect x="83.1" y="59.6" width="1.8" height="24" fill="#3584c5"/><rect x="75.5" y="72.8" width="17" height="1.8" fill="#3584c5"/></svg><svg x="404.6" y="3365.9" width="107.4" height="102.4" viewBox="0 0 110 106" preserveAspectRatio="none"><g fill="#3584c5"><polygon points="0,40 55,0 110,40" /><rect x="80" y="10" width="11" height="17"/>
<path d="M7,43H102V106H64V66A9.5,9.5 0 0 0 45,66V106H7Z"/></g><path d="M15.0,83.6V67.6A8.0,8.0 0 0 1 31.0,67.6V83.6Z" fill="#fff"/><rect x="22.1" y="59.6" width="1.8" height="24" fill="#3584c5"/><rect x="15.0" y="72.8" width="16" height="1.8" fill="#3584c5"/><path d="M75.5,83.6V68.1A8.5,8.5 0 0 1 92.5,68.1V83.6Z" fill="#fff"/><rect x="83.1" y="59.6" width="1.8" height="24" fill="#3584c5"/><rect x="75.5" y="72.8" width="17" height="1.8" fill="#3584c5"/></svg><rect x="165.4" y="3468.4" width="136.8" height="32.7" fill="#3584c5"/><rect x="370" y="3471.7" width="168.5" height="31" fill="#4b6f99"/><circle cx="336.8" cy="3546" r="49.5" fill="#6b87aa"/><rect x="612.5" y="3413.7" width="334.5" height="33.3" fill="#6b87aa"/><rect x="665.8" y="3454.8" width="213" height="40.2" fill="#6b87aa"/><circle cx="794" cy="3546.4" r="44.5" fill="#6b87aa"/><svg x="188.3" y="3627.3" width="109.2" height="101.7" viewBox="0 0 110 106" preserveAspectRatio="none"><g fill="#3584c5"><polygon points="0,40 55,0 110,40" /><rect x="80" y="10" width="11" height="17"/>
<path d="M7,43H102V106H64V66A9.5,9.5 0 0 0 45,66V106H7Z"/></g><path d="M15.0,83.6V67.6A8.0,8.0 0 0 1 31.0,67.6V83.6Z" fill="#fff"/><rect x="22.1" y="59.6" width="1.8" height="24" fill="#3584c5"/><rect x="15.0" y="72.8" width="16" height="1.8" fill="#3584c5"/><path d="M75.5,83.6V68.1A8.5,8.5 0 0 1 92.5,68.1V83.6Z" fill="#fff"/><rect x="83.1" y="59.6" width="1.8" height="24" fill="#3584c5"/><rect x="75.5" y="72.8" width="17" height="1.8" fill="#3584c5"/></svg><rect x="409" y="3785.3" width="140" height="37.7" fill="#6b87aa"/><polygon points="178.5,3765 392.8,3765 464.2,3855 226,3855" fill="#3584c5" /><polygon points="557.2,3763.8 659.1,3763.8 659.1,3855 485.8,3855" fill="#3584c5" /><rect x="177.3" y="3732.6" width="137.4" height="32.4" fill="#3584c5"/><clipPath id="avc"><circle cx="121" cy="3974.7" r="61.8"/></clipPath><circle cx="121" cy="3974.7" r="61.8" fill="#7b80a0"/><g clip-path="url(#avc)"><polygon points="139,3937 200,3998 200,4060 140,4060 90,4006 156,4000" fill="#5f6486"/></g><rect x="106" y="3934.7" width="33" height="46" rx="9" fill="#ecebf0"/><path d="M89.6,4005.8Q92,3984 112,3978H134Q154,3984 155.7,4005.8Z" fill="#ecebf0"/><rect x="0" y="4069" width="980" height="28.5" fill="#4a78a5"/><polygon points="0,4069 125.6,4069 119,4097.5 0,4097.5" fill="#3a86c8"/><polygon points="125.6,4069 135.5,4069 127.6,4097.5 119,4097.5" fill="#fff"/><rect x="0" y="4097.5" width="980" height="78" fill="#d3d3d3"/>
</svg>
<div class="t" style="left:103.3px;top:45.2px;font-size:27.32px;letter-spacing:4.24px;color:#111;font-weight:bold;font-family:'Liberation Sans',sans-serif;transform:scaleX(0.47);transform-origin:0 0;white-space:pre;">THE  REAL-ESTATE OF BIG DATA</div><div class="t" style="left:382.7px;top:48.8px;font-size:12.88px;letter-spacing:0.00px;color:#2a2a2a;font-weight:normal;font-family:'Liberation Sans',sans-serif;-webkit-text-stroke:0.4px #2a2a2a;">在信息爆炸的时代，海量数据将产生全新的价值。来吧，跟随新华房产一</div><div class="t" style="left:382.6px;top:63.5px;font-size:12.94px;letter-spacing:0.00px;color:#2a2a2a;font-weight:normal;font-family:'Liberation Sans',sans-serif;-webkit-text-stroke:0.4px #2a2a2a;">起，透过数据看趋势，透过喧嚣读潜语。或许，您将看到不一样的世界。</div><div class="t" style="left:108.4px;top:147.5px;font-size:46.88px;letter-spacing:0.00px;color:#0e0e0e;font-weight:bold;font-family:'Liberation Sans',sans-serif;transform:scaleX(1.12);transform-origin:0 0;-webkit-text-stroke:4.5px #0e0e0e;">地产</div><div class="t" style="left:128.5px;top:192.3px;font-size:50.40px;letter-spacing:0.00px;color:#3d6b9a;font-weight:bold;font-family:'Liberation Sans',sans-serif;-webkit-text-stroke:1px #3d6b9a;">数据</div><div class="t" style="left:304.1px;top:154.6px;font-size:37.79px;letter-spacing:2.70px;color:#0a0a0a;font-weight:bold;font-family:'Liberation Serif',serif;transform:scaleX(1.22);transform-origin:0 0;-webkit-text-stroke:0.8px #0a0a0a;">23</div><div class="t" style="left:357.0px;top:149.7px;font-size:45.03px;letter-spacing:0.00px;color:#0a0a0a;font-weight:bold;font-family:'Liberation Sans',sans-serif;-webkit-text-stroke:1.6px #0a0a0a;">个自住房项目已入市</div><div class="t" style="left:306.4px;top:200.8px;font-size:44.67px;letter-spacing:0.00px;color:#0a0a0a;font-weight:bold;font-family:'Liberation Sans',sans-serif;-webkit-text-stroke:1.6px #0a0a0a;">部分成区域定价</div><div class="t" style="left:642.6px;top:195.1px;font-size:52.00px;letter-spacing:0.00px;color:#0a0a0a;font-weight:bold;font-family:'Liberation Serif',serif;">“</div><div class="t" style="left:668.4px;top:200.8px;font-size:45.47px;letter-spacing:0.00px;color:#0a0a0a;font-weight:bold;font-family:'Liberation Sans',sans-serif;-webkit-text-stroke:1.6px #0a0a0a;">标杆</div><div class="t" style="left:757.3px;top:194.6px;font-size:52.00px;letter-spacing:0.00px;color:#0a0a0a;font-weight:bold;font-family:'Liberation Serif',serif;">”</div><div class="t" style="left:754.6px;top:268.5px;font-size:13.73px;letter-spacing:0.00px;color:#000;font-weight:normal;font-family:'Liberation Sans',sans-serif;">近期精彩内容回顾</div><div class="t" style="left:135.4px;top:360.0px;font-size:40.52px;letter-spacing:0.48px;color:#fff;font-weight:bold;font-family:'Liberation Sans',sans-serif;-webkit-text-stroke:0.9px #fff;">北京入市自住房达23个 房源达27400套</div><div class="t" style="left:345.6px;top:467.2px;font-size:15.68px;letter-spacing:2.32px;color:#111;font-weight:bold;font-family:'Liberation Sans',sans-serif;-webkit-text-stroke:0.34px #111;">本周，3个自住房项目启动网申，包括</div><div class="t" style="left:104.9px;top:492.5px;font-size:16.39px;letter-spacing:1.66px;color:#111;font-weight:bold;font-family:'Liberation Sans',sans-serif;-webkit-text-stroke:0.36px #111;">位于顺义区赵全营镇的首创·悦树汇、首创·悦树湾项目，以及海淀首个自住房项目——海淀·嘉郡。</div><div class="t" style="left:379.9px;top:563.5px;font-size:24.71px;letter-spacing:4.91px;color:#fff;font-weight:bold;font-family:'Liberation Sans',sans-serif;-webkit-text-stroke:0.6px #fff;white-space:pre;">2 3 个 项 目 入 市</div><div class="t" style="left:381.8px;top:601.2px;font-size:20.34px;letter-spacing:-0.00px;color:#fff;font-weight:normal;font-family:'Liberation Sans',sans-serif;">近30个项目确定了项目名称</div><div class="t" style="left:349.4px;top:632.7px;font-size:20.55px;letter-spacing:-1.04px;color:#fff;font-weight:normal;font-family:'Liberation Sans',sans-serif;">御景湾、汇星苑、汇景苑、满庭春、</div><div class="t" style="left:349.8px;top:665.4px;font-size:20.34px;letter-spacing:-0.95px;color:#fff;font-weight:normal;font-family:'Liberation Sans',sans-serif;">惠兰美居、悦都汇、满庭芳、九院城、</div><div class="t" style="left:349.2px;top:695.0px;font-size:20.55px;letter-spacing:-2.03px;color:#fff;font-weight:normal;font-family:'Liberation Sans',sans-serif;">顺新嘉苑等</div><div class="t" style="left:91.9px;top:663.2px;font-size:23.75px;letter-spacing:0.00px;color:#3b7cc0;font-weight:bold;font-family:'Liberation Sans',sans-serif;-webkit-text-stroke:0.52px #3b7cc0;">已经入市的</div><div class="t" style="left:90.9px;top:693.4px;font-size:24.39px;letter-spacing:-0.23px;color:#3b7cc0;font-weight:bold;font-family:'Liberation Sans',sans-serif;-webkit-text-stroke:0.54px #3b7cc0;">自住房房源达到了</div><div class="t" style="left:717.0px;top:670.3px;font-size:24.38px;letter-spacing:0.00px;color:#3b7cc0;font-weight:bold;font-family:'Liberation Sans',sans-serif;-webkit-text-stroke:0.54px #3b7cc0;">已完成2014年计划</div><div class="t" style="left:719.5px;top:702.3px;font-size:23.11px;letter-spacing:1.25px;color:#3b7cc0;font-weight:bold;font-family:'Liberation Sans',sans-serif;-webkit-text-stroke:0.51px #3b7cc0;">供应50000套的</div><div class="t" style="left:117.1px;top:795.0px;font-size:53.52px;letter-spacing:0.92px;color:#fff;font-weight:bold;font-family:'Liberation Sans',sans-serif;transform:scaleX(0.78);transform-origin:0 0;">27400</div><div class="t" style="left:159.0px;top:851.3px;font-size:32.65px;letter-spacing:0.00px;color:#fff;font-weight:bold;font-family:'Liberation Sans',sans-serif;-webkit-text-stroke:0.8px #fff;">套</div><div class="t" style="left:761.7px;top:791.5px;font-size:63.38px;letter-spacing:0.06px;color:#fff;font-weight:bold;font-family:'Liberation Sans',sans-serif;transform:scaleX(0.6);transform-origin:0 0;">54.8%</div><div class="t" style="left:420.9px;top:859.1px;font-size:12.37px;letter-spacing:3.25px;color:#4d79a6;font-weight:normal;font-family:'Liberation Sans',sans-serif;">怀柔</div><div class="t" style="left:419.8px;top:872.9px;font-size:11.64px;letter-spacing:0.12px;color:#1a2433;font-weight:bold;font-family:'Liberation Sans',sans-serif;-webkit-text-stroke:0.30px #1a2433;">共0块</div><div class="t" style="left:320.6px;top:925.3px;font-size:13.36px;letter-spacing:0.99px;color:#4d79a6;font-weight:normal;font-family:'Liberation Sans',sans-serif;">延庆</div><div class="t" style="left:320.5px;top:939.6px;font-size:10.24px;letter-spacing:1.84px;color:#1a2433;font-weight:bold;font-family:'Liberation Sans',sans-serif;-webkit-text-stroke:0.30px #1a2433;">共0块</div><div class="t" style="left:511.9px;top:925.6px;font-size:12.12px;letter-spacing:0.20px;color:#4d79a6;font-weight:normal;font-family:'Liberation Sans',sans-serif;">密云</div><div class="t" style="left:511.7px;top:939.8px;font-size:10.71px;letter-spacing:1.55px;color:#1a2433;font-weight:bold;font-family:'Liberation Sans',sans-serif;-webkit-text-stroke:0.30px #1a2433;">共1块</div><div class="t" style="left:317.2px;top:1010.9px;font-size:13.58px;letter-spacing:-4.08px;color:#4d79a6;font-weight:normal;font-family:'Liberation Sans',sans-serif;">昌平</div><div class="t" style="left:315.9px;top:1026.2px;font-size:11.52px;letter-spacing:0.22px;color:#1a2433;font-weight:bold;font-family:'Liberation Sans',sans-serif;-webkit-text-stroke:0.30px #1a2433;">共4块</div><div class="t" style="left:456.0px;top:1029.3px;font-size:11.55px;letter-spacing:0.00px;color:#4d79a6;font-weight:normal;font-family:'Liberation Sans',sans-serif;">顺义</div><div class="t" style="left:454.7px;top:1040.9px;font-size:11.64px;letter-spacing:0.12px;color:#1a2433;font-weight:bold;font-family:'Liberation Sans',sans-serif;-webkit-text-stroke:0.30px #1a2433;">共7块</div><div class="t" style="left:542.7px;top:1006.5px;font-size:12.99px;letter-spacing:-0.28px;color:#4d79a6;font-weight:normal;font-family:'Liberation Sans',sans-serif;">平谷</div><div class="t" style="left:542.0px;top:1019.6px;font-size:11.64px;letter-spacing:0.07px;color:#1a2433;font-weight:bold;font-family:'Liberation Sans',sans-serif;-webkit-text-stroke:0.30px #1a2433;">共3块</div><div class="t" style="left:246.5px;top:1075.0px;font-size:11.99px;letter-spacing:1.88px;color:#4d79a6;font-weight:normal;font-family:'Liberation Sans',sans-serif;">门头沟</div><div class="t" style="left:247.6px;top:1088.6px;font-size:11.64px;letter-spacing:0.12px;color:#1a2433;font-weight:bold;font-family:'Liberation Sans',sans-serif;-webkit-text-stroke:0.30px #1a2433;">共4块</div><div class="t" style="left:336.7px;top:1074.9px;font-size:12.12px;letter-spacing:2.56px;color:#4d79a6;font-weight:normal;font-family:'Liberation Sans',sans-serif;">海淀</div><div class="t" style="left:336.9px;top:1088.6px;font-size:11.64px;letter-spacing:0.07px;color:#1a2433;font-weight:bold;font-family:'Liberation Sans',sans-serif;-webkit-text-stroke:0.30px #1a2433;">共2块</div><div class="t" style="left:281.0px;top:1098.7px;font-size:13.83px;letter-spacing:0.00px;color:#4d79a6;font-weight:normal;font-family:'Liberation Sans',sans-serif;">石景山</div><div class="t" style="left:281.3px;top:1114.8px;font-size:10.91px;letter-spacing:0.00px;color:#1a2433;font-weight:bold;font-family:'Liberation Sans',sans-serif;-webkit-text-stroke:0.30px #1a2433;">共1块</div><div class="t" style="left:388.3px;top:1084.8px;font-size:13.72px;letter-spacing:0.00px;color:#4d79a6;font-weight:normal;font-family:'Liberation Sans',sans-serif;">朝阳</div><div class="t" style="left:388.4px;top:1098.7px;font-size:11.52px;letter-spacing:0.27px;color:#1a2433;font-weight:bold;font-family:'Liberation Sans',sans-serif;-webkit-text-stroke:0.30px #1a2433;">共9块</div><div class="t" style="left:305.7px;top:1125.7px;font-size:14.84px;letter-spacing:0.00px;color:#4d79a6;font-weight:normal;font-family:'Liberation Sans',sans-serif;">丰台</div><div class="t" style="left:307.9px;top:1142.3px;font-size:11.42px;letter-spacing:0.00px;color:#1a2433;font-weight:bold;font-family:'Liberation Sans',sans-serif;-webkit-text-stroke:0.30px #1a2433;">共3块</div><div class="t" style="left:434.5px;top:1123.9px;font-size:13.87px;letter-spacing:4.44px;color:#4d79a6;font-weight:normal;font-family:'Liberation Sans',sans-serif;">通州</div><div class="t" style="left:434.9px;top:1138.3px;font-size:12.17px;letter-spacing:0.00px;color:#1a2433;font-weight:bold;font-family:'Liberation Sans',sans-serif;-webkit-text-stroke:0.30px #1a2433;">共3块</div><div class="t" style="left:258.3px;top:1168.3px;font-size:13.87px;letter-spacing:0.00px;color:#4d79a6;font-weight:normal;font-family:'Liberation Sans',sans-serif;">房山</div><div class="t" style="left:258.7px;top:1181.3px;font-size:11.52px;letter-spacing:0.42px;color:#1a2433;font-weight:bold;font-family:'Liberation Sans',sans-serif;-webkit-text-stroke:0.30px #1a2433;">共2块</div><div class="t" style="left:376.4px;top:1173.1px;font-size:12.55px;letter-spacing:-2.69px;color:#4d79a6;font-weight:normal;font-family:'Liberation Sans',sans-serif;">大兴</div><div class="t" style="left:376.9px;top:1187.2px;font-size:11.30px;letter-spacing:0.00px;color:#1a2433;font-weight:bold;font-family:'Liberation Sans',sans-serif;-webkit-text-stroke:0.30px #1a2433;">共8块</div><div class="t" style="left:599.9px;top:1117.9px;font-size:17.11px;letter-spacing:-0.25px;color:#2f6db0;font-weight:bold;font-family:'Liberation Sans',sans-serif;-webkit-text-stroke:0.38px #2f6db0;">自2013年10月22日以来，北京已陆续推出</div><div class="t" style="left:601.8px;top:1152.3px;font-size:16.66px;letter-spacing:-0.09px;color:#2f6db0;font-weight:bold;font-family:'Liberation Sans',sans-serif;-webkit-text-stroke:0.37px #2f6db0;">47宗自住型商品房地块，其中2014年至今</div><div class="t" style="left:600.6px;top:1185.3px;font-size:17.26px;letter-spacing:0.00px;color:#2f6db0;font-weight:bold;font-family:'Liberation Sans',sans-serif;-webkit-text-stroke:0.38px #2f6db0;">已推出24块。</div><div class="t" style="left:117.6px;top:1272.8px;font-size:16.43px;letter-spacing:0.00px;color:#2f6db0;font-weight:bold;font-family:'Liberation Sans',sans-serif;-webkit-text-stroke:0.36px #2f6db0;">涵盖朝阳、海淀、通州、昌平、顺义、丰台、房山、大兴、门头沟、密云、平谷11个区域，其中朝阳区最多。</div><div class="t" style="left:137.7px;top:1338.1px;font-size:38.73px;letter-spacing:-1.81px;color:#fff;font-weight:bold;font-family:'Liberation Sans',sans-serif;-webkit-text-stroke:1.1px #fff;">朝阳、平谷较</div><div class="t" style="left:374.5px;top:1332.9px;font-size:46.00px;letter-spacing:0.00px;color:#fff;font-weight:bold;font-family:'Liberation Sans',sans-serif;">“</div><div class="t" style="left:402.6px;top:1337.3px;font-size:41.04px;letter-spacing:0.00px;color:#fff;font-weight:bold;font-family:'Liberation Sans',sans-serif;-webkit-text-stroke:1.1px #fff;">敏感</div><div class="t" style="left:482.3px;top:1332.5px;font-size:46.00px;letter-spacing:0.00px;color:#fff;font-weight:bold;font-family:'Liberation Sans',sans-serif;">”</div><div class="t" style="left:514.4px;top:1339.3px;font-size:37.97px;letter-spacing:-1.12px;color:#fff;font-weight:bold;font-family:'Liberation Sans',sans-serif;-webkit-text-stroke:1.1px #fff;">自住房成定价</div><div class="t" style="left:753.2px;top:1332.9px;font-size:46.00px;letter-spacing:0.00px;color:#fff;font-weight:bold;font-family:'Liberation Sans',sans-serif;">“</div><div class="t" style="left:784.0px;top:1337.7px;font-size:39.91px;letter-spacing:-15.52px;color:#fff;font-weight:bold;font-family:'Liberation Sans',sans-serif;-webkit-text-stroke:1.1px #fff;">标杆</div><div class="t" style="left:113.4px;top:1470.2px;font-size:18.02px;letter-spacing:-0.57px;color:#222;font-weight:normal;font-family:'Liberation Sans',sans-serif;">今年以来，北京楼市遇冷，购房者观望情绪浓重。距首个自住房项目入市</div><div class="t" style="left:673.5px;top:1459.7px;font-size:28.95px;letter-spacing:0.51px;color:#111;font-weight:bold;font-family:'Liberation Sans',sans-serif;-webkit-text-stroke:0.8px #111;">7个月</div><div class="t" style="left:746.6px;top:1470.0px;font-size:18.58px;letter-spacing:-0.73px;color:#222;font-weight:normal;font-family:'Liberation Sans',sans-serif;">之后，自住型</div><div class="t" style="left:113.4px;top:1497.2px;font-size:17.84px;letter-spacing:-0.28px;color:#222;font-weight:normal;font-family:'Liberation Sans',sans-serif;">商品房对北京房价的影响已是不言而喻。而不同区域的影响呈现出冷热不均的局面。</div><div class="t" style="left:59.2px;top:1558.3px;font-size:26.13px;letter-spacing:0.00px;color:#3d5f8a;font-weight:normal;font-family:'Liberation Sans',sans-serif;">在东坝及其周边，自住型商品房</div><div class="t" style="left:59.4px;top:1584.0px;font-size:26.58px;letter-spacing:0.00px;color:#3d5f8a;font-weight:normal;font-family:'Liberation Sans',sans-serif;">对区域的影响十分明显。</div><div class="t" style="left:27.1px;top:1691.6px;font-size:22.47px;letter-spacing:0.00px;color:#fff;font-weight:normal;font-family:'Liberation Sans',sans-serif;">自住房</div><div class="t" style="left:139.2px;top:1692.0px;font-size:21.56px;letter-spacing:0.00px;color:#fff;font-weight:normal;font-family:'Liberation Sans',sans-serif;">二手房</div><div class="t" style="left:251.5px;top:1691.5px;font-size:22.53px;letter-spacing:0.00px;color:#fff;font-weight:normal;font-family:'Liberation Sans',sans-serif;">新房</div><div class="t" style="left:344.2px;top:1638.0px;font-size:22.16px;letter-spacing:-0.35px;color:#fff;font-weight:normal;font-family:'Liberation Sans',sans-serif;">首开旗下常青藤降价推精装现房</div><div class="t" style="left:570.5px;top:1674.0px;font-size:25.54px;letter-spacing:0.56px;color:#fff;font-weight:bold;font-family:'Liberation Sans',sans-serif;-webkit-text-stroke:0.56px #fff;">3.3万</div><div class="t" style="left:635.1px;top:1683.0px;font-size:17.94px;letter-spacing:0.00px;color:#2a3d5c;font-weight:normal;font-family:'Liberation Sans',sans-serif;">元/平方米</div><div class="t" style="left:423.5px;top:1711.1px;font-size:23.74px;letter-spacing:-0.04px;color:#fff;font-weight:normal;font-family:'Liberation Sans',sans-serif;">另一知名老项目奥林匹克花园</div><div class="t" style="left:550.4px;top:1746.3px;font-size:28.17px;letter-spacing:1.03px;color:#fff;font-weight:bold;font-family:'Liberation Sans',sans-serif;">31000-32000</div><div class="t" style="left:726.2px;top:1756.0px;font-size:16.51px;letter-spacing:0.00px;color:#2a3d5c;font-weight:normal;font-family:'Liberation Sans',sans-serif;">元/平方米</div><div class="t" style="left:818.7px;top:1720.1px;font-size:29.11px;letter-spacing:0.00px;color:#1f3350;font-weight:normal;font-family:'Liberation Sans',sans-serif;-webkit-text-stroke:0.4px #1f3350;">东坝新房</div><div class="t" style="left:183.0px;top:1890.5px;font-size:27.65px;letter-spacing:0.00px;color:#1f3350;font-weight:normal;font-family:'Liberation Sans',sans-serif;-webkit-text-stroke:0.4px #1f3350;">东坝自住房</div><div class="t" style="left:470.6px;top:1902.6px;font-size:17.56px;letter-spacing:0.00px;color:#fff;font-weight:bold;font-family:'Liberation Sans',sans-serif;-webkit-text-stroke:0.39px #fff;">金隅汇景苑、保利首开联合</div><div class="t" style="left:470.4px;top:1924.3px;font-size:17.75px;letter-spacing:0.07px;color:#fff;font-weight:bold;font-family:'Liberation Sans',sans-serif;-webkit-text-stroke:0.39px #fff;">开发的丽湾家园、恒大地块</div><div class="t" style="left:469.9px;top:1943.7px;font-size:17.86px;letter-spacing:-0.00px;color:#fff;font-weight:bold;font-family:'Liberation Sans',sans-serif;-webkit-text-stroke:0.39px #fff;">配建自住房等</div><div class="t" style="left:469.0px;top:1975.9px;font-size:33.80px;letter-spacing:-3.15px;color:#fff;font-weight:bold;font-family:'Liberation Sans',sans-serif;">22000</div><div class="t" style="left:552.0px;top:1984.4px;font-size:20.76px;letter-spacing:-0.20px;color:#3d5f8a;font-weight:normal;font-family:'Liberation Sans',sans-serif;">元/平方米</div><div class="t" style="left:126.3px;top:2088.3px;font-size:25.05px;letter-spacing:-1.67px;color:#fff;font-weight:normal;font-family:'Liberation Sans',sans-serif;">恒大御景湾附近的朝丰家园小区</div><div class="t" style="left:153.2px;top:2119.6px;font-size:25.49px;letter-spacing:3.34px;color:#fff;font-weight:normal;font-family:'Liberation Sans',sans-serif;">2.1万元-2.3万</div><div class="t" style="left:337.0px;top:2126.4px;font-size:20.32px;letter-spacing:0.59px;color:#2a3d5c;font-weight:normal;font-family:'Liberation Sans',sans-serif;">元/平方米</div><div class="t" style="left:709.2px;top:2054.2px;font-size:32.35px;letter-spacing:-1.90px;color:#1f3350;font-weight:normal;font-family:'Liberation Sans',sans-serif;-webkit-text-stroke:0.4px #1f3350;">东坝二手房</div><div class="t" style="left:22.3px;top:2163.4px;font-size:20.34px;letter-spacing:-1.26px;color:#8a9fbb;font-weight:normal;font-family:'Liberation Sans',sans-serif;">同时，东坝区域的二手房市场也出现了明显的客源回流情况。</div><div class="t" style="left:35.6px;top:2228.6px;font-size:25.68px;letter-spacing:0.00px;color:#3d6a9a;font-weight:normal;font-family:'Liberation Sans',sans-serif;">平谷马坊镇的首城汇景湾</div><div class="t" style="left:57.8px;top:2264.2px;font-size:27.52px;letter-spacing:3.76px;color:#fff;font-weight:bold;font-family:'Liberation Sans',sans-serif;-webkit-text-stroke:0.61px #fff;">12000元/平方米</div><div class="t" style="left:360.5px;top:2255.9px;font-size:35.48px;letter-spacing:0.00px;color:#1a3355;font-weight:bold;font-family:'Liberation Sans',sans-serif;-webkit-text-stroke:0.8px #1a3355;">相</div><div class="t" style="left:418.9px;top:2256.2px;font-size:36.60px;letter-spacing:0.00px;color:#1a3355;font-weight:bold;font-family:'Liberation Sans',sans-serif;-webkit-text-stroke:0.8px #1a3355;">近</div><div class="t" style="left:460.2px;top:2227.9px;font-size:26.29px;letter-spacing:0.00px;color:#3d6a9a;font-weight:normal;font-family:'Liberation Sans',sans-serif;">平谷的自住房项目首创悦澜汇</div><div class="t" style="left:533.3px;top:2264.2px;font-size:27.52px;letter-spacing:4.36px;color:#fff;font-weight:bold;font-family:'Liberation Sans',sans-serif;-webkit-text-stroke:0.61px #fff;">11000元/平方米</div><div class="t" style="left:133.6px;top:2362.9px;font-size:37.05px;letter-spacing:-1.36px;color:#fff;font-weight:bold;font-family:'Liberation Sans',sans-serif;-webkit-text-stroke:1.1px #fff;">城南大兴很</div><div class="t" style="left:316.5px;top:2356.9px;font-size:46.00px;letter-spacing:0.00px;color:#fff;font-weight:bold;font-family:'Liberation Sans',sans-serif;">“</div><div class="t" style="left:342.1px;top:2362.9px;font-size:38.22px;letter-spacing:0.00px;color:#fff;font-weight:bold;font-family:'Liberation Sans',sans-serif;-webkit-text-stroke:1.1px #fff;">淡定</div><div class="t" style="left:416.3px;top:2356.5px;font-size:46.00px;letter-spacing:0.00px;color:#fff;font-weight:bold;font-family:'Liberation Sans',sans-serif;">”</div><div class="t" style="left:444.9px;top:2363.7px;font-size:37.03px;letter-spacing:0.00px;color:#fff;font-weight:bold;font-family:'Liberation Sans',sans-serif;-webkit-text-stroke:1.1px #fff;">改善型项目价格波动不大</div><div class="t" style="left:282.5px;top:2604.4px;font-size:27.91px;letter-spacing:-0.29px;color:#fff;font-weight:300;font-family:'Liberation Sans',sans-serif;">大兴孙村首创悦都汇</div><div class="t" style="left:521.5px;top:2609.9px;font-size:17.20px;letter-spacing:0.00px;color:#fff;font-weight:normal;font-family:'Liberation Sans',sans-serif;">（已于7月7日摇号）</div><div class="t" style="left:566.5px;top:2637.9px;font-size:31.25px;letter-spacing:-0.11px;color:#fff;font-weight:normal;font-family:'Liberation Sans',sans-serif;">1.3万</div><div class="t" style="left:640.9px;top:2652.6px;font-size:17.75px;letter-spacing:0.75px;color:#3d5f8a;font-weight:normal;font-family:'Liberation Sans',sans-serif;">元/平方米</div><div class="t" style="left:114.4px;top:2701.5px;font-size:36.48px;letter-spacing:0.00px;color:#3f6590;font-weight:bold;font-family:'Liberation Sans',sans-serif;-webkit-text-stroke:1px #3f6590;">北京</div><div class="t" style="left:96.7px;top:2746.8px;font-size:37.81px;letter-spacing:-2.38px;color:#3f6590;font-weight:bold;font-family:'Liberation Sans',sans-serif;-webkit-text-stroke:1px #3f6590;">最低价</div><div class="t" style="left:838.9px;top:2668.5px;font-size:36.36px;letter-spacing:0.00px;color:#3f6590;font-weight:bold;font-family:'Liberation Sans',sans-serif;-webkit-text-stroke:1px #3f6590;">一街</div><div class="t" style="left:840.4px;top:2709.3px;font-size:35.26px;letter-spacing:0.53px;color:#3f6590;font-weight:bold;font-family:'Liberation Sans',sans-serif;-webkit-text-stroke:1px #3f6590;">之隔</div><div class="t" style="left:461.7px;top:2823.6px;font-size:29.14px;letter-spacing:0.00px;color:#fff;font-weight:normal;font-family:'Liberation Sans',sans-serif;white-space:pre;">格林云墅  和  首地·浣溪谷</div><div class="t" style="left:560.9px;top:2860.4px;font-size:22.33px;letter-spacing:0.06px;color:#fff;font-weight:normal;font-family:'Liberation Sans',sans-serif;">改善型项目无大波动</div><div class="t" style="left:198.9px;top:3020.2px;font-size:20.34px;letter-spacing:0.00px;color:#fff;font-weight:normal;font-family:'Liberation Sans',sans-serif;">大兴采育镇当代满庭春MOMA</div><div class="t" style="left:294.0px;top:3046.5px;font-size:30.28px;letter-spacing:-0.57px;color:#fff;font-weight:normal;font-family:'Liberation Sans',sans-serif;">9500</div><div class="t" style="left:360.7px;top:3054.4px;font-size:20.81px;letter-spacing:0.58px;color:#3d5f8a;font-weight:normal;font-family:'Liberation Sans',sans-serif;">元/平方米</div><div class="t" style="left:160.1px;top:3113.5px;font-size:25.68px;letter-spacing:-0.06px;color:#3d6a9a;font-weight:300;font-family:'Liberation Sans',sans-serif;">阳光波尔多等二手房</div><div class="t" style="left:61.4px;top:3150.1px;font-size:24.16px;letter-spacing:6.59px;color:#fff;font-weight:bold;font-family:'Liberation Sans',sans-serif;-webkit-text-stroke:0.53px #fff;">12000元/平方米</div><div class="t" style="left:396.7px;top:3135.4px;font-size:29.92px;letter-spacing:4.07px;color:#1b2f4d;font-weight:bold;font-family:'Liberation Sans',sans-serif;-webkit-text-stroke:1px #1b2f4d;">无冲击</div><div class="t" style="left:501.9px;top:3111.3px;font-size:25.95px;letter-spacing:0.00px;color:#3d6a9a;font-weight:300;font-family:'Liberation Sans',sans-serif;">旁边的当代满庭春</div><div class="t" style="left:710.8px;top:3110.4px;font-size:27.46px;letter-spacing:-4.54px;color:#3d6a9a;font-weight:300;font-family:'Liberation Sans',sans-serif;">MOMA</div><div class="t" style="left:679.2px;top:3148.5px;font-size:26.73px;letter-spacing:4.54px;color:#fff;font-weight:bold;font-family:'Liberation Sans',sans-serif;-webkit-text-stroke:0.59px #fff;">9500元/平方米</div><div class="t" style="left:196.3px;top:3254.5px;font-size:38.16px;letter-spacing:0.00px;color:#fff;font-weight:bold;font-family:'Liberation Sans',sans-serif;-webkit-text-stroke:1.1px #fff;">变化</div><div class="t" style="left:290.6px;top:3255.8px;font-size:34.00px;letter-spacing:0.00px;color:#fff;font-weight:bold;font-family:'Liberation Sans',sans-serif;">:</div><div class="t" style="left:325.9px;top:3254.6px;font-size:36.78px;letter-spacing:0.00px;color:#fff;font-weight:bold;font-family:'Liberation Sans',sans-serif;-webkit-text-stroke:1.1px #fff;">从</div><div class="t" style="left:365.7px;top:3241.3px;font-size:51.45px;letter-spacing:4.97px;color:#fff;font-weight:bold;font-family:'Liberation Sans',sans-serif;">74:1</div><div class="t" style="left:486.7px;top:3253.6px;font-size:38.81px;letter-spacing:4.26px;color:#fff;font-weight:bold;font-family:'Liberation Sans',sans-serif;-webkit-text-stroke:1.1px #fff;">到弃购率近</div><div class="t" style="left:700.6px;top:3244.5px;font-size:47.04px;letter-spacing:0.00px;color:#fff;font-weight:bold;font-family:'Liberation Sans',sans-serif;">8</div><div class="t" style="left:739.7px;top:3254.6px;font-size:36.78px;letter-spacing:0.00px;color:#fff;font-weight:bold;font-family:'Liberation Sans',sans-serif;-webkit-text-stroke:1.1px #fff;">成</div><div class="t" style="left:171.5px;top:3473.4px;font-size:21.29px;letter-spacing:0.00px;color:#fff;font-weight:normal;font-family:'Liberation Sans',sans-serif;">自住型商品房</div><div class="t" style="left:316.0px;top:3473.7px;font-size:23.73px;letter-spacing:-5.02px;color:#4a6d96;font-weight:normal;font-family:'Liberation Sans',sans-serif;">低于</div><div class="t" style="left:369.7px;top:3476.0px;font-size:21.00px;letter-spacing:0.00px;color:#fff;font-weight:normal;font-family:'Liberation Sans',sans-serif;">同区域新建商品房</div><div class="t" style="left:84.2px;top:3466.8px;font-size:31.96px;letter-spacing:0.00px;color:#1e2f4c;font-weight:normal;font-family:'Liberation Sans',sans-serif;-webkit-text-stroke:0.7px #1e2f4c;">去年</div><div class="t" style="left:316.0px;top:3529.6px;font-size:21.43px;letter-spacing:-1.99px;color:#fff;font-weight:normal;font-family:'Liberation Sans',sans-serif;">价格</div><div class="t" style="left:317.0px;top:3557.3px;font-size:23.24px;letter-spacing:-0.53px;color:#fff;font-weight:normal;font-family:'Liberation Sans',sans-serif;">30%</div><div class="t" style="left:638.0px;top:3419.7px;font-size:21.46px;letter-spacing:0.00px;color:#fff;font-weight:normal;font-family:'Liberation Sans',sans-serif;">深受城市夹心层和刚需族的追捧</div><div class="t" style="left:682.1px;top:3467.5px;font-size:18.94px;letter-spacing:0.00px;color:#fff;font-weight:normal;font-family:'Liberation Sans',sans-serif;">如</div><div class="t" style="left:714.6px;top:3460.4px;font-size:31.94px;letter-spacing:0.00px;color:#fff;font-weight:bold;font-family:'Liberation Sans',sans-serif;-webkit-text-stroke:0.6px #fff;">恒大御景湾</div><div class="t" style="left:510.1px;top:3535.9px;font-size:21.31px;letter-spacing:0.00px;color:#3a6da5;font-weight:normal;font-family:'Liberation Sans',sans-serif;">申购家庭和房源比例高达</div><div class="t" style="left:757.8px;top:3527.0px;font-size:36.29px;letter-spacing:1.39px;color:#fff;font-weight:normal;font-family:'Liberation Sans',sans-serif;">74:1</div><div class="t" style="left:177.7px;top:3742.3px;font-size:19.58px;letter-spacing:1.99px;color:#fff;font-weight:normal;font-family:'Liberation Sans',sans-serif;">自住型商品房</div><div class="t" style="left:216.4px;top:3776.3px;font-size:30.71px;letter-spacing:0.00px;color:#fff;font-weight:normal;font-family:'Liberation Sans',sans-serif;-webkit-text-stroke:0.5px #fff;">首创悦都汇</div><div class="t" style="left:216.6px;top:3817.6px;font-size:27.45px;letter-spacing:0.00px;color:#fff;font-weight:normal;font-family:'Liberation Sans',sans-serif;-webkit-text-stroke:0.5px #fff;">当代MOMA满庭春</div><div class="t" style="left:434.4px;top:3793.4px;font-size:25.11px;letter-spacing:1.01px;color:#fff;font-weight:bold;font-family:'Liberation Sans',sans-serif;-webkit-text-stroke:0.55px #fff;">弃购率</div><div class="t" style="left:588.9px;top:3771.8px;font-size:25.77px;letter-spacing:1.32px;color:#fff;font-weight:normal;font-family:'Liberation Sans',sans-serif;">42%</div><div class="t" style="left:584.6px;top:3818.8px;font-size:24.93px;letter-spacing:2.14px;color:#fff;font-weight:normal;font-family:'Liberation Sans',sans-serif;">84%</div><div class="t" style="left:71.4px;top:3793.4px;font-size:29.05px;letter-spacing:2.55px;color:#1e2f4c;font-weight:normal;font-family:'Liberation Sans',sans-serif;-webkit-text-stroke:0.7px #1e2f4c;">而今年</div><div class="t" style="left:193.5px;top:3933px;font-size:19px;color:#4d72a0;font-weight:normal;font-style:italic;letter-spacing:5.8px;transform:rotate(-9.2deg);transform-origin:9.5px 9.5px;-webkit-text-stroke:0.3px #4d72a0;">尽管剩余房源均被庞大的申购人群消化，但最初的“弃购率”著实出乎预料。</div><div class="t" style="left:194.4px;top:3976.0px;font-size:18.81px;letter-spacing:0.96px;color:#2e5d95;font-weight:normal;font-family:'Liberation Sans',sans-serif;">由于地段偏远、发展较慢等原因，许多项目存在着交通、购物、学校、医疗等</div><div class="t" style="left:195.1px;top:3998.1px;font-size:19.87px;letter-spacing:0.00px;color:#2e5d95;font-weight:normal;font-family:'Liberation Sans',sans-serif;">基础配套设施不全甚至近于空白的情况，难以保证生活的便利与舒适度。</div><div class="t" style="left:256.0px;top:4122.7px;font-size:10.64px;letter-spacing:-0.38px;color:#222;font-weight:normal;font-family:'Liberation Mono',monospace;white-space:pre;">Copyright © 2000 - 2013 XINHUANET.com  All Rights Reserved.</div><div class="t" style="left:628.3px;top:4122.0px;font-size:12.07px;letter-spacing:0.00px;color:#222;font-weight:normal;font-family:'Liberation Sans',sans-serif;">制作单位：新华网</div><div class="t" style="left:446.5px;top:4136.6px;font-size:11.90px;letter-spacing:-0.99px;color:#222;font-weight:normal;font-family:'Liberation Sans',sans-serif;white-space:pre;">版权所有 新华网</div>
</div></body></html>
